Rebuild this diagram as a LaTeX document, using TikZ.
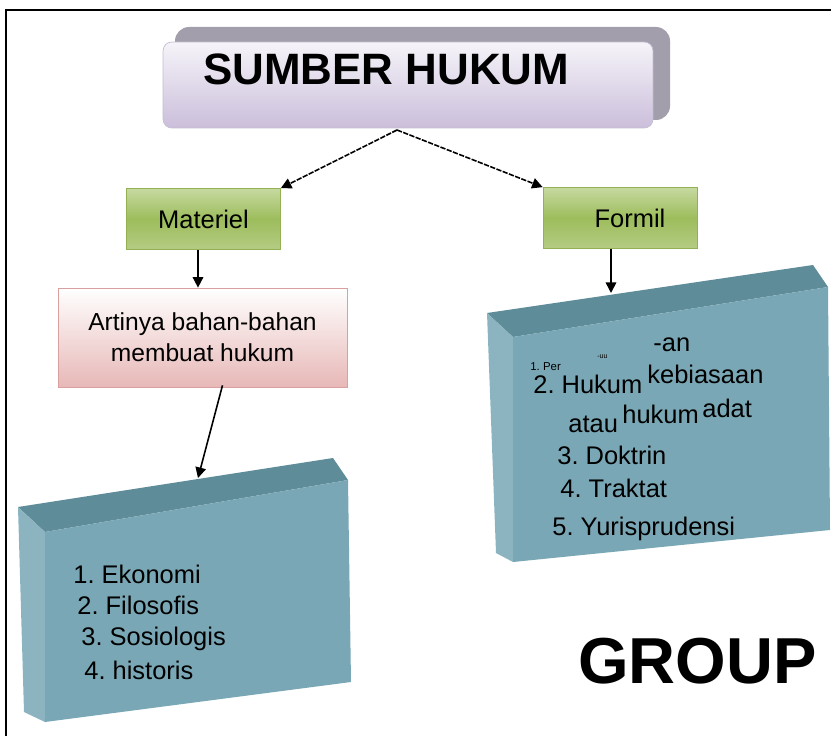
\documentclass[tikz,border=0pt]{standalone}
\usepackage{fontspec}
\setmainfont{Liberation Sans}
\usetikzlibrary{positioning,arrows.meta,calc}
\frenchspacing
\definecolor{lavtop}{HTML}{F6F4F9}
\definecolor{lavbot}{HTML}{CBBEDB}
\definecolor{lavline}{HTML}{C4BDD0}
\definecolor{backgrey}{HTML}{A29EAC}
\definecolor{greentop}{HTML}{C6D9A0}
\definecolor{greenmid}{HTML}{9DBD5C}
\definecolor{greenbot}{HTML}{B4CC83}
\definecolor{greenline}{HTML}{93B055}
\definecolor{pinkbot}{HTML}{E7B8B7}
\definecolor{pinkline}{HTML}{D9A09F}
\definecolor{slabfront}{HTML}{7AA7B5}
\definecolor{slabtop}{HTML}{5E8C98}
\definecolor{slabside}{HTML}{8BB4C0}
\tikzset{
  fig/.style={font=\fontsize{14}{17.6}\selectfont},
  greenbox/.style={draw=greenline,top color=greentop,bottom color=greenbot,
                   middle color=greenmid,minimum width=3.08cm,minimum height=1.22cm,
                   align=center,font=\fontsize{14.5}{17}\selectfont},
  pinkbox/.style={draw=pinkline,top color=white,bottom color=pinkbot,
                  minimum width=5.78cm,minimum height=1.98cm,align=center,
                  font=\fontsize{14}{17.6}\selectfont},
  item/.style={anchor=base west,inner sep=0pt,font=\fontsize{14.5}{17}\selectfont},
  ln/.style={-{Triangle[length=6pt,width=6pt]},line width=0.9pt},
  lnd/.style={ln,dash pattern=on 3pt off 0.8pt},
}

\begin{document}
\begin{tikzpicture}[fig,x=0.02cm,y=-0.02cm,
  topbox/.style={draw=lavline,top color=lavtop,bottom color=lavbot,rounded corners=5pt,
                 minimum width=9.8cm,minimum height=1.72cm}]

\useasboundingbox (0,0) rectangle (831,736);
\draw[line width=1.1pt] (6,736) -- (6,10) -- (831,10);

% left slab
\fill[slabtop]   (18,507) -- (333,458) -- (348,480) -- (45,532) -- cycle;
\fill[slabside]  (18,507) -- (45,532) -- (45,722) -- (24,712) -- cycle;
\fill[slabfront] (45,532) -- (348,480) -- (351,682) -- (45,722) -- cycle;
\coordinate (kiriatas) at (198,478);

% right slab
\fill[slabtop]   (487,313) -- (813,265) -- (828,287) -- (513,337) -- cycle;
\fill[slabside]  (487,313) -- (513,337) -- (513,562) -- (496,553) -- cycle;
\fill[slabfront] (513,337) -- (828,287) -- (830,530) -- (513,562) -- cycle;
\coordinate (kananatas) at (611,293);

% title box
\fill[backgrey,rounded corners=8pt] (175,27) rectangle (670,120);
\node[topbox] (sumber) at (408,85) {};
\node[anchor=base west,inner sep=0pt,font=\fontsize{25}{30}\selectfont\bfseries]
  (judul) at (203,85) {SUMBER HUKUM};
\coordinate (pangkal) at (397,130);

\node[greenbox] (materiel) at (203.5,219) {Materiel};
\node[greenbox] (formil) at (620,218) {\hspace*{4mm}Formil};
\node[pinkbox] (artinya) at (202.5,337.5) {Artinya bahan-bahan\\membuat hukum};

\draw[lnd] (pangkal) -- (materiel.north east);
\draw[lnd] (pangkal) -- (formil.north west);
\draw[ln] (materiel.south -| 198,0) -- (artinya.north -| 198,0);
\draw[ln] ($(artinya.south)+(20,-2)$) -- (kiriatas);
\draw[ln] (formil.south -| 611,0) -- (kananatas);

% left list
\foreach \n/\x/\y/\t in {ekonomi/73/583/1. Ekonomi, filosofis/77/614/2. Filosofis,
                         sosiologis/81/645/3. Sosiologis, historis/84/679/4. historis}
  \node[item] (\n) at (\x,\y) {\t};

% right list
\node[item] (an) at (653,351) {-an};
\node[item,font=\fontsize{6.5}{8}\selectfont] (per) at (530,370) {1. Per};
\node[item,font=\fontsize{4}{5}\selectfont] (uu) at (597,358) {-uu};
\foreach \n/\x/\y/\t in {hukum/533/393/2. Hukum, kebiasaan/647/383/kebiasaan,
                         atau/568/432/atau, hukumb/622/423/hukum, adat/702/417/adat,
                         doktrin/557/464/3. Doktrin, traktat/560/497/4. Traktat,
                         yuris/552/535/5. Yurisprudensi}
  \node[item] (\n) at (\x,\y) {\t};

\node[anchor=base west,inner sep=0pt,font=\fontsize{37}{44}\selectfont\bfseries]
  (group) at (578,683) {GROUP};

\end{tikzpicture}
\end{document}
